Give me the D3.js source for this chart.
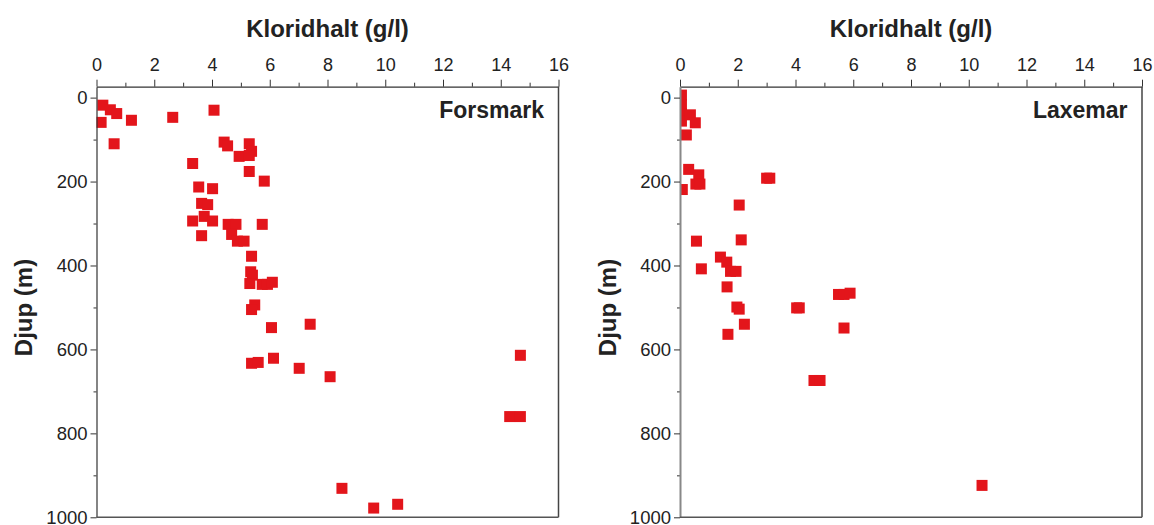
<!DOCTYPE html>
<html><head><meta charset="utf-8">
<script src="https://cdn.jsdelivr.net/npm/d3@7"></script>
<style>
body{margin:0;background:#fff;}
svg text{font-family:"Liberation Sans",Arial,sans-serif;fill:#222;}
</style></head>
<body><svg id="c" width="1154" height="525"></svg>
<script>
// ---- data ----
const xTicks = [0,2,4,6,8,10,12,14,16];
const yTicks = [0,200,400,600,800,1000];
const xTitle = "Kloridhalt (g/l)";
const yTitle = "Djup (m)";
const panelNames = ["Forsmark","Laxemar"];

const forsmarkCl =    [0.22,0.48,0.70,0.16,1.21,2.64,4.07,0.61,4.42,4.54,5.29,5.37,4.94,5.29,3.33,5.29,5.81,3.54,4.02,3.64,3.85,3.73,3.33,4.02,4.56,4.83,5.74,3.64,4.68,4.88,5.11,5.37,5.34,5.40,5.31,5.74,5.92,6.09,5.48,5.37,6.06,7.40,5.37,5.60,6.13,7.02,8.09,8.50,9.60,10.43,14.68,14.31,14.68];
const forsmarkDepth = [18,29,38,59,54,47,30,110,106,115,110,128,140,138,157,176,199,213,217,252,255,283,294,294,302,302,302,329,326,342,342,378,415,423,443,445,445,440,494,505,548,540,633,631,621,645,665,931,978,969,614,760,760];

const laxemarCl =    [0.05,0.05,0.05,0.05,0.36,0.53,0.22,0.30,0.65,0.55,0.69,0.08,3.00,3.11,2.05,2.12,0.57,1.40,1.62,1.75,1.94,0.74,1.63,1.97,2.05,2.23,1.66,4.04,4.13,5.49,5.68,5.89,5.68,4.64,4.85,10.46];
const laxemarDepth = [-6,17,38,56,41,60,89,171,184,206,206,219,192,192,256,339,342,380,392,414,414,408,451,499,504,540,564,501,501,469,469,466,549,674,674,924];

const panels = [
  {name:panelNames[0], cl:forsmarkCl, depth:forsmarkDepth, x0:96.5, x1:558.5},
  {name:panelNames[1], cl:laxemarCl, depth:laxemarDepth, x0:680, x1:1142}
];

const svg = d3.select("#c");
const plotTop = 86.7, plotBottom = 517.3;
const red = "#e3151b";

panels.forEach((p,i)=>{
  const x = d3.scaleLinear().domain([0,16]).range([p.x0,p.x1]);
  const y = d3.scaleLinear().domain([-26,1000]).range([plotTop,plotBottom]);
  const g = svg.append("g");

  const cid = "clip"+i;
  svg.append("clipPath").attr("id",cid).append("rect")
    .attr("x",p.x0).attr("y",plotTop).attr("width",p.x1-p.x0).attr("height",plotBottom-plotTop);

  g.append("g").attr("clip-path",`url(#${cid})`).selectAll("rect")
    .data(p.cl.map((c,k)=>[c,p.depth[k]]))
    .join("rect")
    .attr("x",d=>x(d[0])-5.5).attr("y",d=>y(d[1])-5.5)
    .attr("width",11).attr("height",11).attr("fill",red);

  g.append("g").attr("transform",`translate(0,${plotTop})`)
    .call(d3.axisTop(x).tickValues(d3.range(1,16,2)).tickSize(4).tickFormat(""))
    .call(a=>a.select(".domain").remove())
    .call(a=>a.selectAll("line").attr("stroke","#333"));
  g.append("g").attr("transform",`translate(0,${plotTop})`)
    .call(d3.axisTop(x).tickValues(xTicks).tickSize(7).tickSizeOuter(0).tickPadding(9).tickFormat(d3.format("d")))
    .call(a=>a.select(".domain").attr("stroke","#333").attr("stroke-width",1.2))
    .call(a=>a.selectAll("line").attr("stroke","#333"))
    .call(a=>a.selectAll("text").attr("font-size",18).attr("fill","#222"));

  g.append("g").attr("transform",`translate(${p.x0},0)`)
    .call(d3.axisLeft(y).tickValues(d3.range(100,1000,200)).tickSize(3).tickFormat(""))
    .call(a=>a.select(".domain").remove())
    .call(a=>a.selectAll("line").attr("stroke","#333"));
  g.append("g").attr("transform",`translate(${p.x0},0)`)
    .call(d3.axisLeft(y).tickValues(yTicks).tickSize(6).tickSizeOuter(0).tickPadding(3).tickFormat(d3.format("d")))
    .call(a=>a.select(".domain").attr("stroke",i===0?"#333":"#888").attr("stroke-width",i===0?1.2:2))
    .call(a=>a.selectAll("line").attr("stroke","#333"))
    .call(a=>a.selectAll("text").attr("font-size",18.5).attr("fill","#222"));

  g.append("line").attr("x1",p.x1).attr("x2",p.x1).attr("y1",plotTop).attr("y2",plotBottom)
    .attr("stroke","#444").attr("stroke-width",1.5);
  g.append("line").attr("x1",p.x0).attr("x2",p.x1).attr("y1",plotBottom).attr("y2",plotBottom)
    .attr("stroke","#555").attr("stroke-width",1.5);

  g.append("text").attr("x",(p.x0+p.x1)/2).attr("y",36.5).attr("text-anchor","middle")
    .attr("font-size",24).attr("font-weight","bold").text(xTitle);
  g.append("text").attr("transform",`translate(${p.x0-64.5},307.5) rotate(-90)`)
    .attr("text-anchor","middle").attr("font-size",24).attr("font-weight","bold").text(yTitle);
  g.append("text").attr("x",p.x1-14.5).attr("y",118.3).attr("text-anchor","end")
    .attr("font-size",23).attr("font-weight","bold").text(p.name);
});
</script></body></html>
